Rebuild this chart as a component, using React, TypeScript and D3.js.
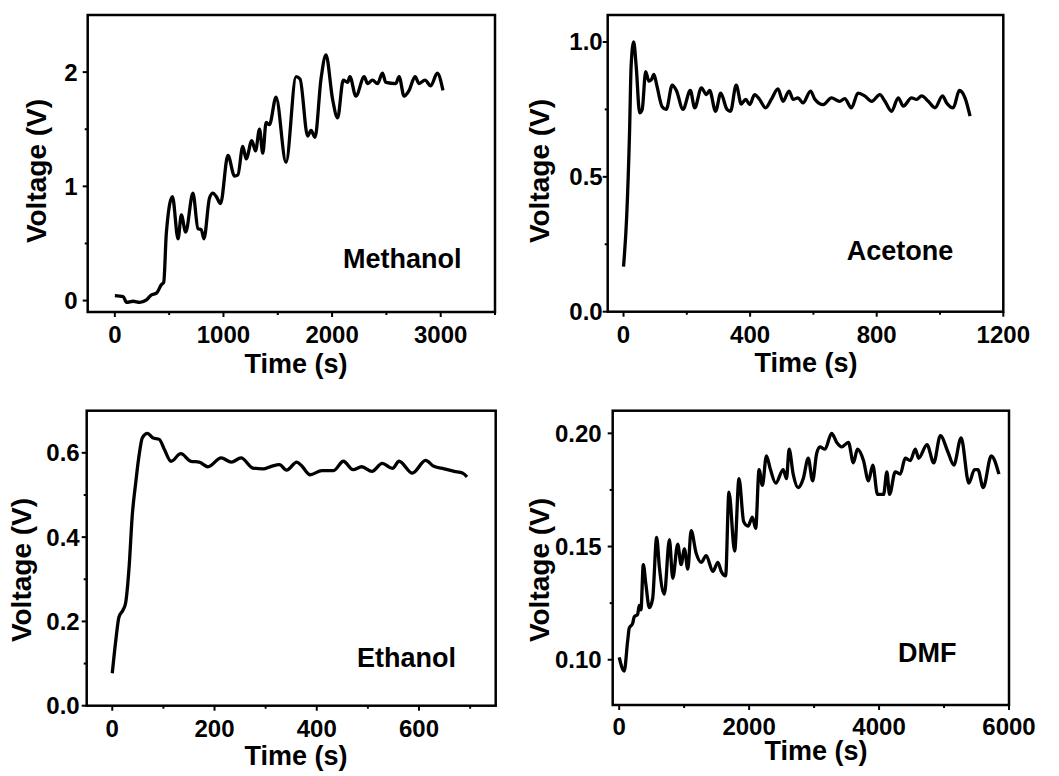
import React, { useEffect, useRef } from "react";
import * as d3 from "d3";

// Methanol: time (s), voltage (V)
const methanolT = [0, 77, 107, 168, 230, 291, 337, 383, 429, 450, 474, 530, 582, 612, 652, 719, 765, 796, 820, 872, 903, 934, 973, 1041, 1102, 1133, 1178, 1209, 1261, 1295, 1332, 1362, 1393, 1423, 1484, 1576, 1668, 1705, 1775, 1806, 1843, 1898, 1944, 2005, 2051, 2103, 2143, 2164, 2219, 2296, 2326, 2372, 2418, 2464, 2495, 2587, 2617, 2663, 2709, 2764, 2801, 2856, 2908, 2969, 3021];
const methanolV = [0.044, 0.035, -0.015, -0.006, -0.015, 0.006, 0.05, 0.065, 0.14, 0.16, 0.59, 0.91, 0.54, 0.75, 0.6, 0.94, 0.63, 0.62, 0.54, 0.9, 0.94, 0.91, 0.85, 1.27, 1.09, 1.1, 1.35, 1.24, 1.4, 1.31, 1.5, 1.29, 1.56, 1.54, 1.78, 1.21, 1.96, 1.94, 1.44, 1.49, 1.43, 1.94, 2.15, 1.76, 1.6, 1.93, 1.91, 1.96, 1.79, 1.96, 1.9, 1.93, 1.9, 1.99, 1.91, 1.9, 1.96, 1.79, 1.84, 1.96, 1.9, 1.93, 1.88, 1.99, 1.84];

// Acetone
const acetoneT = [0, 10, 19, 24, 32, 40, 51, 59, 70, 80, 88, 96, 105, 122, 135, 154, 167, 188, 211, 225, 246, 262, 272, 291, 307, 327, 338, 356, 372, 386, 399, 414, 428, 449, 467, 488, 504, 523, 536, 551, 567, 591, 604, 631, 657, 683, 699, 720, 741, 762, 784, 810, 826, 847, 868, 884, 910, 926, 942, 963, 984, 1008, 1021, 1042, 1061, 1079, 1095];
const acetoneV = [0.167, 0.353, 0.663, 0.91, 1.0, 0.91, 0.737, 0.75, 0.89, 0.855, 0.86, 0.88, 0.84, 0.76, 0.75, 0.84, 0.82, 0.75, 0.82, 0.756, 0.83, 0.805, 0.82, 0.743, 0.81, 0.75, 0.743, 0.84, 0.77, 0.787, 0.768, 0.805, 0.79, 0.756, 0.787, 0.826, 0.78, 0.818, 0.787, 0.793, 0.774, 0.818, 0.789, 0.768, 0.793, 0.78, 0.79, 0.756, 0.81, 0.8, 0.78, 0.805, 0.78, 0.743, 0.793, 0.762, 0.793, 0.787, 0.8, 0.78, 0.756, 0.8, 0.774, 0.756, 0.82, 0.793, 0.725];

// Ethanol
const ethanolT = [0, 7, 13, 21, 26, 33, 39, 46, 52, 59, 69, 79, 92, 102, 115, 134, 154, 170, 187, 213, 233, 252, 275, 295, 311, 327, 341, 361, 370, 387, 410, 433, 452, 471, 488, 508, 528, 548, 561, 587, 613, 629, 649, 669, 685, 694];
const ethanolV = [0.077, 0.156, 0.21, 0.227, 0.243, 0.33, 0.45, 0.53, 0.59, 0.636, 0.646, 0.636, 0.632, 0.608, 0.58, 0.598, 0.58, 0.578, 0.567, 0.588, 0.578, 0.588, 0.564, 0.562, 0.568, 0.572, 0.559, 0.578, 0.57, 0.548, 0.558, 0.558, 0.58, 0.56, 0.567, 0.556, 0.575, 0.563, 0.58, 0.552, 0.582, 0.568, 0.562, 0.556, 0.552, 0.543];

// DMF
const dmfT = [0, 77, 129, 155, 206, 232, 283, 309, 335, 371, 412, 464, 515, 577, 618, 695, 773, 824, 901, 953, 1004, 1056, 1107, 1185, 1262, 1339, 1442, 1519, 1571, 1638, 1689, 1777, 1844, 1916, 1983, 2050, 2101, 2153, 2204, 2266, 2328, 2410, 2524, 2575, 2616, 2678, 2755, 2833, 2910, 2977, 3039, 3090, 3167, 3270, 3348, 3425, 3528, 3605, 3667, 3760, 3837, 3904, 3976, 4069, 4120, 4161, 4249, 4326, 4403, 4481, 4558, 4609, 4738, 4841, 4944, 5057, 5150, 5263, 5382, 5469, 5521, 5603, 5727, 5845];
const dmfV = [0.101, 0.095, 0.108, 0.114, 0.116, 0.119, 0.12, 0.124, 0.122, 0.142, 0.133, 0.123, 0.127, 0.154, 0.141, 0.129, 0.153, 0.136, 0.151, 0.142, 0.149, 0.14, 0.157, 0.147, 0.143, 0.146, 0.139, 0.143, 0.139, 0.137, 0.174, 0.148, 0.18, 0.161, 0.159, 0.163, 0.158, 0.184, 0.177, 0.19, 0.184, 0.178, 0.184, 0.18, 0.193, 0.182, 0.176, 0.18, 0.189, 0.179, 0.191, 0.194, 0.193, 0.2, 0.196, 0.194, 0.196, 0.187, 0.193, 0.188, 0.179, 0.186, 0.173, 0.173, 0.183, 0.173, 0.183, 0.182, 0.189, 0.188, 0.193, 0.189, 0.195, 0.187, 0.199, 0.192, 0.186, 0.198, 0.178, 0.184, 0.184, 0.176, 0.19, 0.182];

const panels = [
  {
    name: "Methanol", t: methanolT, v: methanolV,
    box: [87.7, 495, 15, 312], xDomain: [-250, 3500], yDomain: [-0.1, 2.5],
    xMajor: [0, 1000, 2000, 3000], xMinor: [500, 1500, 2500, 3500],
    yMajor: [0, 1, 2], yMinor: [0.5, 1.5], yFmt: "d",
    yTitle: [46, 171], xTitle: [296, 373], label: [343, 268], xTickY: 343, yTickGap: 10,
  },
  {
    name: "Acetone", t: acetoneT, v: acetoneV,
    box: [607.7, 1003.3, 15, 311.7], xDomain: [-50, 1200], yDomain: [0, 1.1],
    xMajor: [0, 400, 800, 1200], xMinor: [200, 600, 1000],
    yMajor: [0, 0.5, 1.0], yMinor: [0.25, 0.75], yFmt: ".1f",
    yTitle: [549, 171], xTitle: [806, 372], label: [846.7, 260], xTickY: 343, yTickGap: 5,
  },
  {
    name: "Ethanol", t: ethanolT, v: ethanolV,
    box: [86.7, 495.7, 410.7, 705.7], xDomain: [-50, 750], yDomain: [0, 0.7],
    xMajor: [0, 200, 400, 600], xMinor: [100, 300, 500, 700],
    yMajor: [0, 0.2, 0.4, 0.6], yMinor: [0.1, 0.3, 0.5], yFmt: ".1f",
    yTitle: [31, 570], xTitle: [296, 765], label: [357, 666.7], xTickY: 737, yTickGap: 7,
  },
  {
    name: "DMF", t: dmfT, v: dmfV,
    box: [612.7, 1009, 410.7, 705], xDomain: [-100, 6000], yDomain: [0.08, 0.21],
    xMajor: [0, 2000, 4000, 6000], xMinor: [1000, 3000, 5000],
    yMajor: [0.1, 0.15, 0.2], yMinor: [0.125, 0.175], yFmt: ".2f",
    yTitle: [549, 570], xTitle: [816, 760], label: [898, 661.7], xTickY: 735, yTickGap: 11,
  },
];

const FONT = "'Liberation Sans', Arial, sans-serif";

export default function App() {
  const ref = useRef<SVGSVGElement>(null);

  useEffect(() => {
    const svg = d3.select(ref.current);
    svg.selectAll("*").remove();

    panels.forEach((p) => {
      const [x0, x1, y0, y1] = p.box;
      const x = d3.scaleLinear().domain(p.xDomain).range([x0, x1]);
      const y = d3.scaleLinear().domain(p.yDomain).range([y1, y0]);
      const g = svg.append("g");

      // ticks (outward)
      p.xMajor.concat(p.xMinor).forEach((d) => {
        const len = p.xMajor.includes(d) ? 5 : 3;
        g.append("line").attr("x1", x(d)).attr("x2", x(d))
          .attr("y1", y1).attr("y2", y1 + len)
          .attr("stroke", "#000").attr("stroke-width", 2);
      });
      p.yMajor.concat(p.yMinor).forEach((d) => {
        const len = p.yMajor.includes(d) ? 5 : 3;
        g.append("line").attr("x1", x0 - len).attr("x2", x0)
          .attr("y1", y(d)).attr("y2", y(d))
          .attr("stroke", "#000").attr("stroke-width", 2);
      });

      // frame
      g.append("rect").attr("x", x0).attr("y", y0)
        .attr("width", x1 - x0).attr("height", y1 - y0)
        .attr("fill", "none").attr("stroke", "#000").attr("stroke-width", 2.5);

      // tick labels
      g.selectAll(".xt").data(p.xMajor).enter().append("text")
        .attr("x", (d) => x(d)).attr("y", p.xTickY)
        .attr("text-anchor", "middle")
        .attr("font-family", FONT).attr("font-weight", "bold").attr("font-size", 24)
        .text((d) => String(d));
      const fmt = d3.format(p.yFmt);
      g.selectAll(".yt").data(p.yMajor).enter().append("text")
        .attr("x", x0 - p.yTickGap).attr("y", (d) => y(d))
        .attr("dy", "0.35em")
        .attr("text-anchor", "end")
        .attr("font-family", FONT).attr("font-weight", "bold").attr("font-size", 24)
        .text((d) => fmt(d));

      // axis titles
      g.append("text")
        .attr("transform", `translate(${p.yTitle[0]},${p.yTitle[1]}) rotate(-90)`)
        .attr("text-anchor", "middle")
        .attr("font-family", FONT).attr("font-weight", "bold").attr("font-size", 28)
        .text("Voltage (V)");
      g.append("text")
        .attr("x", p.xTitle[0]).attr("y", p.xTitle[1])
        .attr("text-anchor", "middle")
        .attr("font-family", FONT).attr("font-weight", "bold").attr("font-size", 27)
        .text("Time (s)");

      // solvent label
      g.append("text")
        .attr("x", p.label[0]).attr("y", p.label[1])
        .attr("font-family", FONT).attr("font-weight", "bold").attr("font-size", 27)
        .text(p.name);

      // data line
      const pts = p.t.map((t, i) => [t, p.v[i]] as [number, number]);
      const line = d3.line<[number, number]>()
        .x((d) => x(d[0])).y((d) => y(d[1]))
        .curve(d3.curveMonotoneX);
      g.append("path").datum(pts)
        .attr("d", line)
        .attr("fill", "none").attr("stroke", "#000")
        .attr("stroke-width", 3.3).attr("stroke-linejoin", "round");
    });
  }, []);

  return (
    <svg
      ref={ref}
      width={1059}
      height={776}
      style={{ position: "absolute", left: 0, top: 0, background: "#fff" }}
    />
  );
}
